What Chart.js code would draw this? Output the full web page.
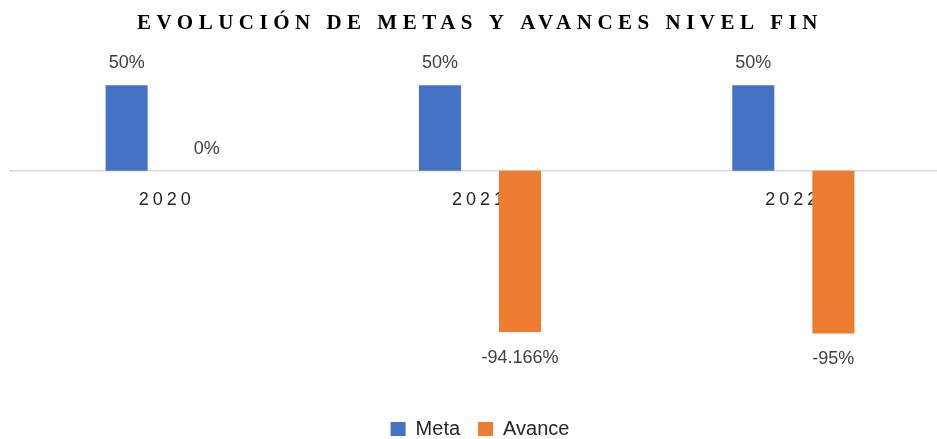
<!DOCTYPE html>
<html>
<head>
<meta charset="utf-8">
<script src="https://cdn.jsdelivr.net/npm/chart.js@4/dist/chart.umd.min.js"></script>
<style>
  html, body { margin: 0; padding: 0; background: #fff; overflow: hidden; }
  #wrap { width: 960px; height: 439px; position: relative; }
</style>
</head>
<body>
<div id="wrap"><canvas id="metas-chart"></canvas></div>
<script>
const years = ['2020', '2021', '2022']
const metaValues = [50, 50, 50]
const avanceValues = [0, -94.166, -95]

const textColor = '#262626'

// canvas letterSpacing for the title and the year labels only
const spacingPlugin = {
  id: 'spacing',
  afterLayout(chart) {
    const wrap = (obj, fn, sp) => {
      if (!obj || obj['_ls_' + fn]) return
      const orig = obj[fn]
      obj[fn] = function (...args) {
        const c = this.ctx
        const prev = c.letterSpacing
        c.letterSpacing = sp
        orig.apply(this, args)
        c.letterSpacing = prev || '0px'
      }
      obj['_ls_' + fn] = true
    }
    wrap(chart.titleBlock, 'draw', '5.5px')
    wrap(chart.scales.x, 'drawLabels', '4px')
  }
}

const valueLabels = {
  id: 'valueLabels',
  afterDatasetsDraw(chart) {
    const ctx = chart.ctx
    ctx.save()
    ctx.font = '18px "Liberation Sans", Arial, sans-serif'
    ctx.fillStyle = '#404040'
    ctx.textAlign = 'center'
    ctx.textBaseline = 'middle'
    chart.data.datasets.forEach((ds, i) => {
      chart.getDatasetMeta(i).data.forEach((bar, j) => {
        const v = ds.data[j]
        const y = v < 0 ? bar.y + 26 : bar.y - 22
        ctx.fillText(v + '%', bar.x, y)
      })
    })
    ctx.restore()
  }
}

new Chart(document.getElementById('metas-chart'), {
  type: 'bar',
  data: {
    labels: years,
    datasets: [{
      label: 'Meta',
      data: metaValues,
      backgroundColor: '#4472C4',
      borderWidth: 0,
      categoryPercentage: 0.511,
      barPercentage: 0.525
    }, {
      label: 'Avance',
      data: avanceValues,
      backgroundColor: '#ED7D31',
      borderWidth: 0,
      categoryPercentage: 0.511,
      barPercentage: 0.525
    }]
  },
  options: {
    responsive: true,
    maintainAspectRatio: false,
    animation: false,
    layout: {
      padding: { left: 10, right: 10, top: 0, bottom: -10 }
    },
    plugins: {
      title: {
        display: true,
        text: 'EVOLUCIÓN DE METAS Y AVANCES NIVEL FIN',
        color: '#000',
        font: { family: '"Liberation Serif", "Times New Roman", serif', size: 21, weight: 'bold' },
        padding: { top: 11, bottom: 14.8 }
      },
      legend: {
        position: 'bottom',
        labels: {
          color: textColor,
          boxWidth: 15,
          boxHeight: 14,
          padding: 18,
          font: { family: '"Liberation Sans", Arial, sans-serif', size: 20 }
        }
      },
      tooltip: { enabled: false }
    },
    scales: {
      x: {
        position: { y: 0 },
        z: 1,
        grid: { display: false, drawTicks: false },
        border: { display: true, color: '#d9d9d9', width: 1.5 },
        ticks: {
          color: textColor,
          padding: 18,
          font: { family: '"Liberation Sans", Arial, sans-serif', size: 18 }
        }
      },
      y: {
        display: false,
        min: -134.5,
        max: 70
      }
    }
  },
  plugins: [spacingPlugin, valueLabels]
})
</script>
</body>
</html>
